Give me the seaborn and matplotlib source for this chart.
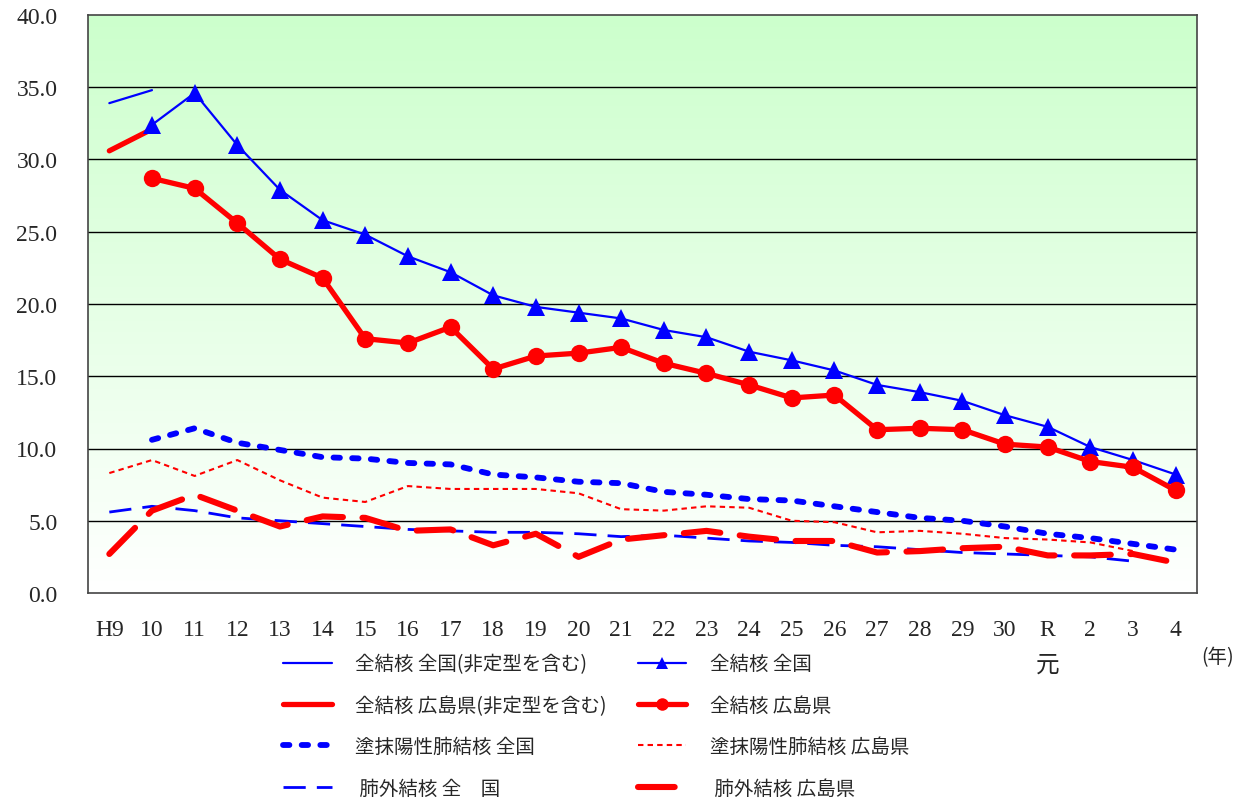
import numpy as np
import pandas as pd
import matplotlib
matplotlib.use("Agg")
import matplotlib.pyplot as plt
import seaborn as sns
from matplotlib.lines import Line2D

# --- data ---
years = ["H9", "10", "11", "12", "13", "14", "15", "16", "17", "18", "19", "20", "21",
         "22", "23", "24", "25", "26", "27", "28", "29", "30", "R\n元", "2", "3", "4"]
nan = np.nan

zen_kuni_hitei = [33.9, 34.8] + [nan] * 24
zen_hiro_hitei = [30.6, 32.1] + [nan] * 24
zen_kuni = [nan, 32.4, 34.6, 31.0, 27.9, 25.8, 24.8, 23.3, 22.2, 20.6, 19.8, 19.4, 19.0,
            18.2, 17.7, 16.7, 16.1, 15.4, 14.4, 13.9, 13.3, 12.3, 11.5, 10.1, 9.2, 8.2]
zen_hiro = [nan, 28.7, 28.0, 25.6, 23.1, 21.8, 17.6, 17.3, 18.4, 15.5, 16.4, 16.6, 17.0,
            15.9, 15.2, 14.4, 13.5, 13.7, 11.3, 11.4, 11.3, 10.3, 10.1, 9.1, 8.7, 7.1]
tomatsu_kuni = [nan, 10.6, 11.4, 10.4, 9.9, 9.4, 9.3, 9.0, 8.9, 8.2, 8.0, 7.7, 7.6,
                7.0, 6.8, 6.5, 6.4, 6.0, 5.6, 5.2, 5.0, 4.6, 4.1, 3.8, 3.4, 3.0]
tomatsu_hiro = [8.3, 9.2, 8.1, 9.2, 7.8, 6.6, 6.3, 7.4, 7.2, 7.2, 7.2, 6.9, 5.8,
                5.7, 6.0, 5.9, 5.0, 4.9, 4.2, 4.3, 4.1, 3.8, 3.7, 3.5, 2.9, nan]
haigai_kuni = [5.6, 6.0, 5.7, 5.2, 5.0, 4.8, 4.6, 4.4, 4.3, 4.2, 4.2, 4.1, 3.9,
               4.0, 3.8, 3.6, 3.5, 3.3, 3.2, 3.0, 2.8, 2.7, 2.6, 2.5, 2.2, nan]
haigai_hiro = [2.7, 5.7, 6.8, 5.7, 4.6, 5.3, 5.2, 4.3, 4.4, 3.3, 4.1, 2.5, 3.7,
               4.0, 4.3, 3.9, 3.6, 3.6, 2.8, 2.9, 3.1, 3.2, 2.6, 2.6, 2.7, 2.1]

labels = ["全結核 全国(非定型を含む)", "全結核 全国",
          "全結核 広島県(非定型を含む)", "全結核 広島県",
          "塗抹陽性肺結核 全国", "塗抹陽性肺結核 広島県",
          " 肺外結核 全　国", " 肺外結核 広島県"]

BLUE = "#0000FF"
RED = "#FF0000"

sns.set_theme(style="white")
plt.rcParams["font.family"] = ["Noto Sans CJK JP", "DejaVu Sans"]
serif = ["Liberation Serif", "Noto Sans CJK JP"]

fig = plt.figure(figsize=(12.48, 8.04), dpi=100)
ax = fig.add_axes([88 / 1248, 1 - 594 / 804, (1197 - 88) / 1248, (594 - 16) / 804])

# gradient background: light green at top fading to white
grad = np.linspace(0, 1, 256).reshape(-1, 1)
top = np.array([204, 255, 204]) / 255
bot = np.array([255, 255, 255]) / 255
img = top[None, None, :] * (1 - grad[..., None]) + bot[None, None, :] * grad[..., None]
ax.imshow(img, extent=[-0.5, 25.5, 0, 40], aspect="auto", origin="upper", zorder=0)

x = np.arange(len(years))


def draw(vals, color, lw, dashes=None, marker=None, ms=0, cap="round"):
    df = pd.DataFrame({"x": x, "y": vals}).dropna()
    sns.lineplot(data=df, x="x", y="y", ax=ax, color=color, linewidth=lw,
                 marker=marker, markersize=ms, markeredgewidth=0,
                 markerfacecolor=color, zorder=3)
    line = ax.lines[-1]
    line.set_solid_capstyle(cap)
    if dashes is not None:
        line.set_dashes(dashes)
        line.set_dash_capstyle(cap)
    return line


draw(zen_kuni_hitei, BLUE, 1.6)
draw(zen_hiro_hitei, RED, 3.8)
draw(zen_kuni, BLUE, 1.6, marker="^", ms=13)
draw(zen_hiro, RED, 3.8, marker="o", ms=12.5)
draw(tomatsu_kuni, BLUE, 4.2, dashes=(1.1, 2.1))
draw(tomatsu_hiro, RED, 1.5, dashes=(2.6, 2.0), cap="butt")
draw(haigai_kuni, BLUE, 2.0, dashes=(8, 4), cap="butt")
draw(haigai_hiro, RED, 4.4, dashes=(6.0, 3.2))

# axes styling
ax.set_xlim(-0.5, 25.5)
ax.set_ylim(0, 40)
ax.set_yticks(np.arange(0, 40.1, 5))
ax.set_yticklabels([f"{v:.1f}" for v in np.arange(0, 40.1, 5)], family=serif, fontsize=17)
ax.set_xticks(x)
ax.set_xticklabels(years, family=serif, fontsize=17, linespacing=1.9, va="top")
ax.set_xticks(np.arange(0.5, 25.5, 1), minor=True)
ax.tick_params(axis="x", which="major", length=0, pad=19)
ax.tick_params(axis="x", which="minor", direction="in", length=6, width=1, color="#555555")
ax.tick_params(axis="y", which="major", direction="in", length=6, width=1, pad=22, color="#555555")
ax.set_xlabel("")
ax.set_ylabel("")
ax.grid(False)
for yv in np.arange(5, 40, 5):
    ax.axhline(yv, color="black", linewidth=1, zorder=1)
for sp in ax.spines.values():
    sp.set_visible(True)
    sp.set_color("#444444")
    sp.set_linewidth(1.2)

fig.text(1218 / 1248, 1 - 658 / 804, "(年)", fontsize=14, ha="center", va="center")

# legend
handles = [
    Line2D([], [], color=BLUE, lw=1.6),
    Line2D([], [], color=RED, lw=3.8, solid_capstyle="round"),
    Line2D([], [], color=BLUE, lw=4.2, dashes=(1.1, 2.1), dash_capstyle="round"),
    Line2D([], [], color=BLUE, lw=2.0, dashes=(8, 4)),
    Line2D([], [], color=BLUE, lw=1.6, marker="^", ms=8, markeredgewidth=0),
    Line2D([], [], color=RED, lw=3.8, marker="o", ms=9, markeredgewidth=0),
    Line2D([], [], color=RED, lw=1.5, dashes=(2.6, 2.0)),
    Line2D([], [], color=RED, lw=4.4, dashes=(6.0, 3.2), dash_capstyle="round"),
]
leg_labels = [labels[0], labels[2], labels[4], labels[6],
              labels[1], labels[3], labels[5], labels[7]]
fig.legend(handles, leg_labels, ncol=2, loc="center", bbox_to_anchor=(596 / 1248, 1 - 727 / 804),
           frameon=False, fontsize=14, handlelength=2.5, handletextpad=1.2,
           columnspacing=1.6, labelspacing=1.05)

fig.savefig("out.png", dpi=100)
